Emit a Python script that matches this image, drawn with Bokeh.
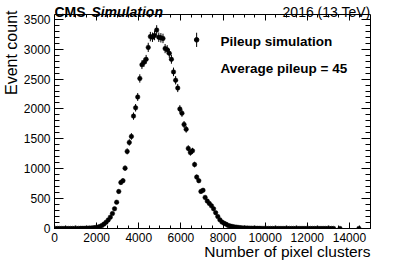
import numpy as np
from bokeh.plotting import figure
from bokeh.models import Range1d, LinearAxis, SingleIntervalTicker, Label, ColumnDataSource, Title
from bokeh.embed import file_html
from bokeh.resources import INLINE

# ---------------- data ----------------
bin_start = 0
bin_width = 100
counts = [
    1, 1, 1, 1, 1, 1, 1, 1, 1, 2,
    2, 2, 3, 3, 4, 5, 7, 9, 12, 16,
    22, 32, 50, 75, 105, 143, 190, 250, 330, 440,
    620, 770, 800, 1010, 1290, 1440, 1540, 1880, 2020, 2200,
    2510, 2740, 2780, 2830, 3030, 3210, 3200, 3230, 3320, 3200,
    3190, 3180, 3010, 2990, 2930, 2830, 2620, 2480, 2350, 2000,
    1930, 1740, 1660, 1340, 1270, 1300, 1070, 860, 800, 620,
    640, 520, 460, 420, 380, 330, 265, 200, 145, 108,
    88, 70, 50, 40, 32, 26, 22, 17, 13, 10,
    8, 7, 6, 5, 4, 4, 3, 3, 2, 2,
    1, 1, 1, 1, 1, 1, 1, 1, 1, 1,
    1, 1, 1, 1, 1, 1, 1, 1, 1, 1,
    1, 1, 1, 1, 1, 1, 1, 1, 1, 1,
    1, 1, 1, 0, 0, 1, 0, 0, 0, 0,
    0, 0, 0, 0, 1, 0, 0, 0, 0, 0,
]
count_errors = [
    1, 1, 1, 1, 1, 1, 1, 1, 1, 2,
    2, 2, 2, 2, 3, 3, 4, 4, 5, 6,
    7, 8, 10, 12, 14, 17, 19, 22, 25, 29,
    35, 39, 40, 44, 50, 53, 55, 61, 63, 66,
    70, 73, 74, 74, 77, 79, 79, 80, 81, 79,
    79, 79, 77, 77, 76, 74, 72, 70, 68, 63,
    62, 58, 57, 51, 50, 50, 46, 41, 40, 35,
    35, 32, 30, 29, 27, 25, 23, 20, 17, 15,
    13, 12, 10, 9, 8, 7, 7, 6, 5, 4,
    4, 4, 3, 3, 3, 3, 2, 2, 2, 2,
    1, 1, 1, 1, 1, 1, 1, 1, 1, 1,
    1, 1, 1, 1, 1, 1, 1, 1, 1, 1,
    1, 1, 1, 1, 1, 1, 1, 1, 1, 1,
    1, 1, 1, 0, 0, 1, 0, 0, 0, 0,
    0, 0, 0, 0, 1, 0, 0, 0, 0, 0,
]
x_limits = (0, 15000)
y_limits = (0, 3580)
x_tick_step = 2000
y_tick_step = 500
x_title = "Number of pixel clusters"
y_title = "Event count"
cms_label = "CMS"
cms_extra = "Simulation"
lumi_label = "2016 (13 TeV)"
legend_entries = ["Pileup simulation", "Average pileup = 45"]

# ---------------- layout constants (pixels) ----------------
FONT = "Liberation Sans"
W, H = 395, 262
FRAME_L, FRAME_R = 53, 370
TOP_BORDER = 6          # frame top (canvas px)
BOTTOM_BORDER = 34      # space for tick labels + x title
BOX_TOP = 14            # where the drawn plot box starts (canvas px)

frame_bottom = H - BOTTOM_BORDER
px_per_count = (frame_bottom - BOX_TOP) / (y_limits[1] - y_limits[0])
y_top = y_limits[1] + (BOX_TOP - TOP_BORDER) / px_per_count
px_per_x = (FRAME_R - FRAME_L) / (x_limits[1] - x_limits[0])


def ydat(px_above_box_top):
    return y_limits[1] + px_above_box_top / px_per_count


# ---------------- build ----------------
cnt = np.array(counts, dtype=float)
err = np.array(count_errors, dtype=float)
centers = bin_start + bin_width * (np.arange(len(cnt)) + 0.5)
keep = cnt > 0
src = ColumnDataSource(dict(
    x=centers[keep], y=cnt[keep],
    lo=(cnt - err)[keep], hi=(cnt + err)[keep],
))

p = figure(width=W, height=H, output_backend="svg", toolbar_location=None,
           x_range=Range1d(*x_limits), y_range=Range1d(y_limits[0], y_top),
           min_border_left=FRAME_L, min_border_right=W - FRAME_R, min_border_top=TOP_BORDER,
           min_border_bottom=BOTTOM_BORDER, x_axis_location=None, y_axis_location=None)
p.background_fill_color = "white"
p.border_fill_color = "white"
p.outline_line_color = None
p.xgrid.visible = False
p.ygrid.visible = False


def make_axis(step, minor, labels, tin, tmin, **kw):
    ax = LinearAxis(ticker=SingleIntervalTicker(interval=step, num_minor_ticks=minor), **kw)
    ax.axis_line_color = "black"
    ax.major_tick_line_color = "black"
    ax.minor_tick_line_color = "black"
    ax.major_tick_in = tin
    ax.major_tick_out = 0
    ax.minor_tick_in = tmin
    ax.minor_tick_out = 0
    if labels:
        ax.major_label_text_font = FONT
        ax.major_label_text_font_size = "12px"
        ax.major_label_text_color = "black"
        ax.major_label_standoff = 4
    else:
        ax.major_label_text_font_size = "1px"
        ax.major_label_text_color = None
        ax.major_label_standoff = 0
    return ax


p.add_layout(make_axis(x_tick_step, 4, True, 6, 3), "below")
p.add_layout(make_axis(x_tick_step, 4, False, 6, 3, fixed_location=y_limits[1]), "above")
p.add_layout(make_axis(y_tick_step, 5, True, 9, 5, bounds=y_limits), "left")
p.add_layout(make_axis(y_tick_step, 5, False, 9, 5, bounds=y_limits), "right")

p.add_layout(Title(text=x_title, align="right", vertical_align="top", standoff=-3,
                   text_font=FONT, text_font_size="15.5px", text_font_style="normal",
                   text_color="black"), "below")
p.add_layout(Title(text=y_title, align="right", standoff=1, offset=4,
                   text_font=FONT, text_font_size="16px", text_font_style="normal",
                   text_color="black"), "left")

p.segment(x0="x", y0="lo", x1="x", y1="hi", source=src, line_color="black", line_width=1)
p.scatter(x="x", y="y", source=src, size=4.5, marker="circle",
          fill_color="black", line_color="black", line_width=0.5)

# legend marker with error bar
leg_x, leg_y, leg_err = 6747, 3156, 119
p.segment(x0=[leg_x], y0=[leg_y - leg_err], x1=[leg_x], y1=[leg_y + leg_err], line_color="black", line_width=1)
p.scatter(x=[leg_x], y=[leg_y], size=4.5, marker="circle", fill_color="black", line_color="black")

p.add_layout(Label(x=7882, y=3130, text=legend_entries[0], text_font=FONT, text_font_style="bold",
                   text_font_size="13.5px", text_baseline="middle", text_align="left", text_color="black"))
p.add_layout(Label(x=7882, y=2680, text=legend_entries[1], text_font=FONT, text_font_style="bold",
                   text_font_size="13.5px", text_baseline="middle", text_align="left", text_color="black"))

# header (above the plot box, still inside the frame)
p.add_layout(Label(x=x_limits[0], y=ydat(2.5), text=cms_label, text_font=FONT, text_font_style="bold",
                   text_font_size="14px", text_baseline="alphabetic", text_align="left", text_color="black"))
p.add_layout(Label(x=x_limits[0] + 37 / px_per_x, y=ydat(2.5), text=cms_extra, text_font=FONT,
                   text_font_style="bold italic", text_font_size="14px", text_baseline="alphabetic",
                   text_align="left", text_color="black"))
p.add_layout(Label(x=x_limits[1], y=ydat(2.5), text=lumi_label, text_font=FONT,
                   text_font_size="14px", text_baseline="alphabetic", text_align="right", text_color="black"))

open("out.html", "w").write(file_html(p, INLINE))
